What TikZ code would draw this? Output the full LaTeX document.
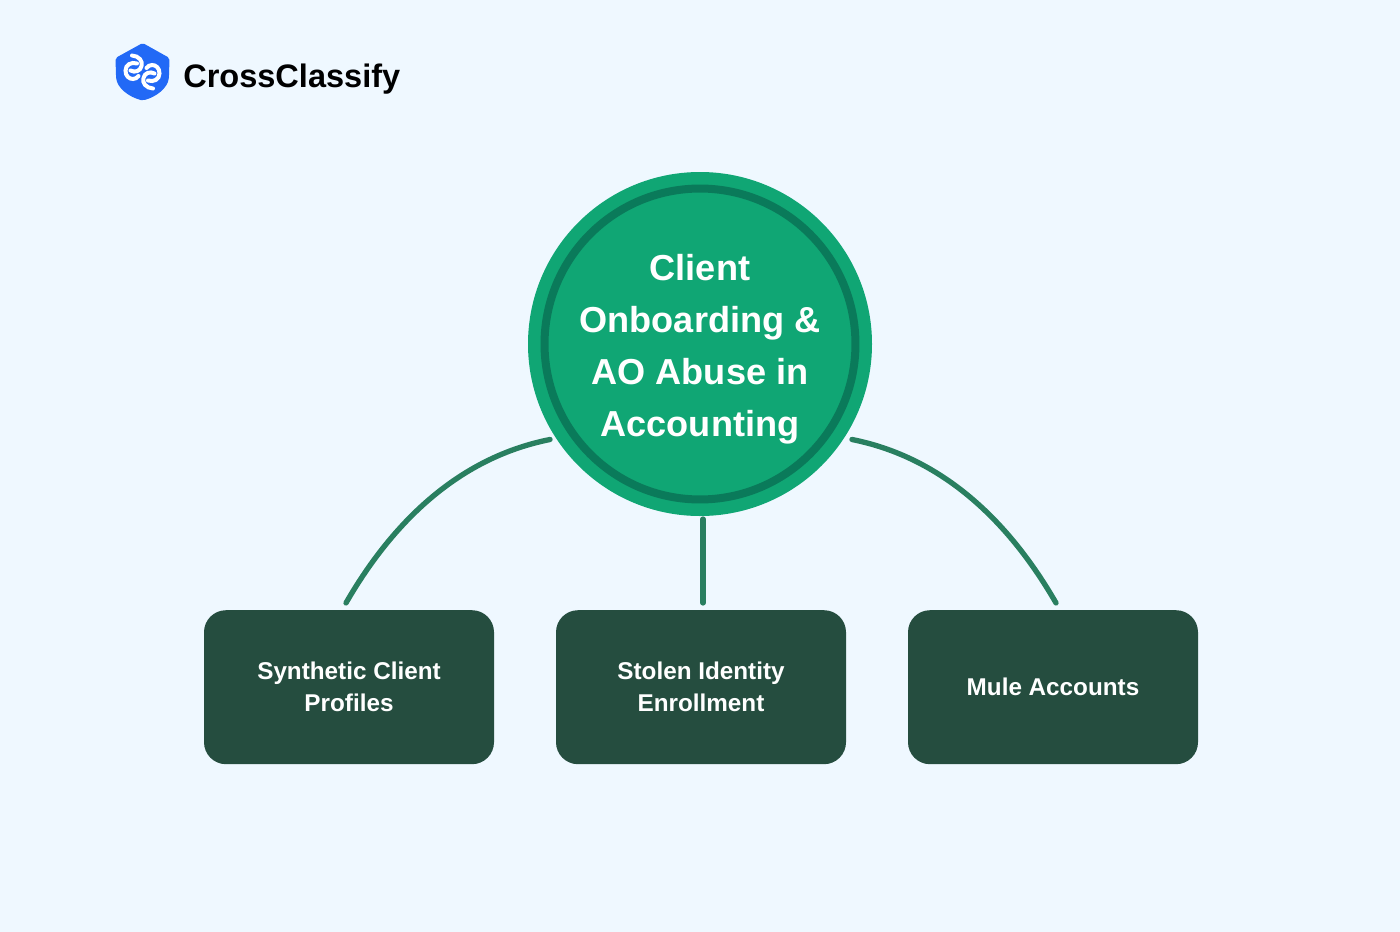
\documentclass[tikz,border=0pt]{standalone}
\usepackage{fontspec}
\setmainfont{Liberation Sans}
\usetikzlibrary{calc}
\definecolor{pagebg}{HTML}{EFF8FF}
\definecolor{hubgreen}{HTML}{10A674}
\definecolor{ringgreen}{HTML}{0A7A5A}
\definecolor{linkgreen}{HTML}{297F60}
\definecolor{boxgreen}{HTML}{254D3F}
\definecolor{shieldblue}{HTML}{2269F6}
\tikzset{
    leaf/.style={draw=none, fill=boxgreen, rounded corners=16.5pt, minimum width=217.5pt, minimum height=115.5pt,
        text=white, align=center, font=\fontsize{18.2}{24}\selectfont\bfseries},
    link/.style={draw=linkgreen, line width=4pt, line cap=round},
    swirl/.style={draw=white, line width=3pt, line cap=round}
}
\begin{document}
\begin{tikzpicture}[x=0.75pt, y=-0.75pt]
    \useasboundingbox [fill=pagebg] (0,0) rectangle (1400,932);

    % Logo
    \path [fill=shieldblue, rounded corners=1.5pt] (142.7,43) -- (169.5,58) -- (169,76)
        .. controls (168,88) and (156,97) .. (142.7,100.5)
        .. controls (129,97) and (117,88) .. (116,76) -- (115.5,58) -- cycle;
    \draw [swirl] (132,55.5) .. controls (139,56) and (143,61) .. (141.5,66)
        .. controls (140.5,71) and (135,73) .. (130.5,70.5);
    \draw [swirl] (137,63.5) .. controls (131,61.5) and (125.5,65) .. (125.5,70.5)
        .. controls (125.5,76) and (129,79) .. (133,79) .. controls (135,79) and (137,78) .. (138.5,76);
    \draw [swirl] (153,88.5) .. controls (146,88) and (142,83) .. (143.5,78)
        .. controls (144.5,73) and (150,71) .. (154.5,73.5);
    \draw [swirl] (148,80.5) .. controls (154,82.5) and (159.5,79) .. (159.5,73.5)
        .. controls (159.5,68) and (156,65) .. (152,65) .. controls (150,65) and (148,66) .. (146.5,68);
    \node [font=\fontsize{24.4}{30}\selectfont\bfseries, anchor=base west, inner sep=0pt] (brand) at (183,87) {CrossClassify};

    % Hub
    \node [circle, fill=hubgreen, minimum size=258pt, inner sep=0pt] (hub) at (700,344) {};
    \draw [ringgreen, line width=6pt] (hub) circle [radius=116.6pt];
    \node [text=white, align=center, font=\fontsize{27.1}{39}\selectfont\bfseries] (hubtext) at (700,349) {Client\\Onboarding \&\\AO Abuse in\\Accounting};

    % Leaves
    \node [leaf] (synthetic) at (349,687.2) {Synthetic Client\\Profiles};
    \node [leaf] (stolen) at (701,687.2) {Stolen Identity\\Enrollment};
    \node [leaf] (mule) at (1053,687.2) {Mule Accounts};

    % Links
    \coordinate (syntheticTop) at ($(synthetic.north)+(-3,-7)$);
    \coordinate (stolenTop) at ($(stolen.north)+(2,-7)$);
    \coordinate (muleTop) at ($(mule.north)+(3,-7)$);
    \coordinate (hubLeft) at (550,439.5);
    \coordinate (hubDown) at (703,519);
    \coordinate (hubRight) at (852,439.5);
    \draw [link] (hubLeft) .. controls (462,457) and (395,518) .. (syntheticTop);
    \draw [link] (hubDown) -- (stolenTop);
    \draw [link] (hubRight) .. controls (940,457) and (1007,518) .. (muleTop);
\end{tikzpicture}
\end{document}
